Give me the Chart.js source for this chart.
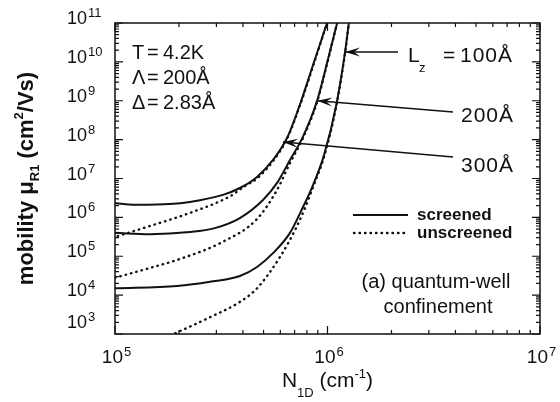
<!DOCTYPE html>
<html>
<head>
<meta charset="utf-8">
<script src="https://cdn.jsdelivr.net/npm/chart.js@4/dist/chart.umd.min.js"></script>
<style>
  html, body { margin: 0; padding: 0; background: #fff; }
  #wrap { width: 560px; height: 402px; }
</style>
</head>
<body>
<div id="wrap"><canvas id="mobilityChart" width="560" height="402"></canvas></div>
<script>
// axis ranges (log10 decades)
const xExps = [5, 6, 7];
const yExps = [3, 4, 5, 6, 7, 8, 9, 10, 11];

// N_1D (cm^-1) vs mobility (cm^2/Vs)
// Lz = 300 A
const n300s = [1.0e5, 1.31e5, 1.81e5, 2.25e5, 3.22e5, 3.87e5, 4.66e5, 5.54e5, 6.45e5, 7.42e5, 8.55e5, 9.95e5];
const mu300s = [2.3e6, 2.1e6, 2.2e6, 2.5e6, 3.8e6, 5.7e6, 1.1e7, 3.0e7, 1.1e8, 8.0e8, 8.3e9, 1.0e11];
const n300u = [1.03e5, 1.46e5, 2.25e5, 3.48e5, 4.09e5, 4.66e5, 5.54e5, 6.45e5, 7.42e5, 8.55e5, 9.95e5];
const mu300u = [3.3e5, 6.0e5, 1.3e6, 3.5e6, 6.4e6, 1.0e7, 2.8e7, 1.05e8, 7.6e8, 7.8e9, 1.0e11];
// Lz = 200 A
const n200s = [1.0e5, 1.46e5, 2.25e5, 2.95e5, 3.87e5, 4.97e5, 5.79e5, 6.66e5, 7.67e5, 8.93e5, 9.95e5, 1.11e6];
const mu200s = [4.0e5, 3.7e5, 4.2e5, 5.3e5, 9.6e5, 2.8e6, 7.7e6, 3.0e7, 1.2e8, 9.9e8, 9.4e9, 1.0e11];
const n200u = [1.0e5, 1.46e5, 2.02e5, 3.19e5, 4.66e5, 5.79e5, 6.66e5, 7.67e5, 8.93e5, 9.95e5, 1.11e6];
const mu200u = [2.8e4, 5.0e4, 8.5e4, 2.3e5, 9.1e5, 5.1e6, 2.5e7, 1.1e8, 9.3e8, 8.8e9, 1.0e11];
// Lz = 100 A
const n100s = [1.0e5, 1.96e5, 2.80e5, 3.87e5, 4.66e5, 5.54e5, 6.66e5, 7.67e5, 8.55e5, 9.63e5, 1.10e6, 1.21e6, 1.26e6];
const mu100s = [1.5e4, 1.72e4, 2.2e4, 3.1e4, 5.3e4, 1.2e5, 4.0e5, 1.85e6, 6.8e6, 4.0e7, 7.8e8, 1.8e10, 1.0e11];
const n100u = [1.63e5, 2.80e5, 3.87e5, 4.66e5, 5.98e5, 7.03e5, 7.84e5, 8.55e5, 9.63e5, 1.10e6, 1.21e6, 1.26e6];
const mu100u = [7.0e2, 2.7e3, 6.7e3, 1.5e4, 9.6e4, 4.7e5, 1.74e6, 6.0e6, 3.6e7, 7.3e8, 1.7e10, 1.0e11];

// where the Lz arrows point (on the screened curves)
const arrowTips = [
  { label: '100Å', n: 1.21e6, mu: 1.8e10 },
  { label: '200Å', n: 8.95e5, mu: 1.0e9 },
  { label: '300Å', n: 6.17e5, mu: 8.7e7 }
];

const FONT = '"Liberation Sans", Arial, Helvetica, sans-serif';
const INK = '#111';

function toPoints(xs, ys) {
  return xs.map((x, i) => ({ x: x, y: ys[i] }));
}

function curve(xs, ys, dotted) {
  return {
    data: toPoints(xs, ys),
    borderColor: INK,
    borderWidth: dotted ? 2.4 : 2,
    borderDash: dotted ? [0.5, 5] : [],
    borderCapStyle: dotted ? 'round' : 'butt',
    pointRadius: 0,
    cubicInterpolationMode: 'monotone',
    clip: 0
  };
}

// draws "10" with a raised exponent
function drawPow(ctx, exp, x, y, align, size) {
  const big = size + 'px ' + FONT, small = '13px ' + FONT;
  ctx.font = big;
  const wb = ctx.measureText('10').width;
  ctx.font = small;
  const we = ctx.measureText(String(exp)).width;
  let x0 = x;
  if (align === 'right10') x0 = x - wb;
  if (align === 'center') x0 = x - (wb + we) / 2;
  ctx.textAlign = 'left';
  ctx.font = big;
  ctx.fillText('10', x0, y);
  ctx.font = small;
  ctx.fillText(String(exp), x0 + wb + 1, y - 7);
}

// draws a run of [text, size, dy, bold] pieces starting at x
function drawRun(ctx, parts, x, y, center) {
  let w = 0;
  parts.forEach(p => { ctx.font = (p[3] ? 'bold ' : '') + p[1] + 'px ' + FONT; w += ctx.measureText(p[0]).width; });
  let cx = center ? x - w / 2 : x;
  ctx.textAlign = 'left';
  parts.forEach(p => {
    ctx.font = (p[3] ? 'bold ' : '') + p[1] + 'px ' + FONT;
    ctx.fillText(p[0], cx, y + p[2]);
    cx += ctx.measureText(p[0]).width;
  });
}

function arrow(ctx, x1, y1, x2, y2) {
  ctx.beginPath();
  ctx.moveTo(x1, y1);
  ctx.lineTo(x2, y2);
  ctx.lineWidth = 1.6;
  ctx.stroke();
  const ang = Math.atan2(y2 - y1, x2 - x1);
  const L = 15, W = 4.5;
  ctx.beginPath();
  ctx.moveTo(x2, y2);
  ctx.lineTo(x2 - L * Math.cos(ang) + W * Math.sin(ang), y2 - L * Math.sin(ang) - W * Math.cos(ang));
  ctx.lineTo(x2 - 0.6 * L * Math.cos(ang), y2 - 0.6 * L * Math.sin(ang));
  ctx.lineTo(x2 - L * Math.cos(ang) - W * Math.sin(ang), y2 - L * Math.sin(ang) + W * Math.cos(ang));
  ctx.closePath();
  ctx.fill();
}

const decor = {
  id: 'decor',
  afterDraw(chart) {
    const { ctx, chartArea: a, scales: { x, y } } = chart;
    ctx.save();
    ctx.strokeStyle = INK;
    ctx.fillStyle = INK;
    ctx.textBaseline = 'alphabetic';

    // frame
    ctx.lineWidth = 1.5;
    ctx.strokeRect(a.left, a.top, a.right - a.left, a.bottom - a.top);

    // inward ticks on all sides
    ctx.lineWidth = 1.2;
    ctx.beginPath();
    for (let e = xExps[0]; e <= xExps[xExps.length - 1]; e++) {
      for (let m = 1; m <= 9; m++) {
        const v = m * Math.pow(10, e);
        if (v > x.max) break;
        const px = x.getPixelForValue(v);
        const len = m === 1 ? 8 : 4;
        ctx.moveTo(px, a.bottom); ctx.lineTo(px, a.bottom - len);
        ctx.moveTo(px, a.top); ctx.lineTo(px, a.top + len);
      }
    }
    for (let e = yExps[0]; e <= yExps[yExps.length - 1]; e++) {
      for (let m = 1; m <= 9; m++) {
        const v = m * Math.pow(10, e);
        if (v > y.max) break;
        const py = y.getPixelForValue(v);
        const len = m === 1 ? 8 : 4;
        ctx.moveTo(a.left, py); ctx.lineTo(a.left + len, py);
        ctx.moveTo(a.right, py); ctx.lineTo(a.right - len, py);
      }
    }
    ctx.stroke();

    // tick labels
    yExps.forEach(e => {
      const py = y.getPixelForValue(Math.pow(10, e));
      drawPow(ctx, e, 87, e === yExps[0] ? py - 6 : py + 1, 'right10', 18);
    });
    xExps.forEach(e => {
      const px = x.getPixelForValue(Math.pow(10, e));
      drawPow(ctx, e, px + 1, 363, 'center', 19);
    });

    // axis titles
    drawRun(ctx, [['N', 21, 0, false], ['1D', 13, 10, false], [' (cm', 21, 0, false], ['-1', 13, -9, false], [')', 21, 0, false]],
      (a.left + a.right) / 2, 387, true);
    ctx.save();
    ctx.translate(33, (a.top + a.bottom) / 2);
    ctx.rotate(-Math.PI / 2);
    drawRun(ctx, [['mobility \u03bc', 22, 0, true], ['R1', 13, 6, true], [' (cm', 22, 0, true], ['2', 13, -10, true], ['/Vs)', 22, 0, true]],
      0, 0, true);
    ctx.restore();

    // parameters block
    const rows = [['T', '4.2K', 59], ['\u039b', '200Å', 84], ['\u0394', '2.83Å', 109]];
    ctx.font = '20px ' + FONT;
    ctx.textAlign = 'left';
    rows.forEach(r => {
      ctx.fillText(r[0], 132, r[2]);
      ctx.fillText('=', 147, r[2]);
      ctx.fillText(r[1], 163, r[2]);
    });

    // Lz arrows and labels
    const tails = [[398, 52], [453, 112], [453, 157]];
    arrowTips.forEach((t, i) => {
      arrow(ctx, tails[i][0], tails[i][1], x.getPixelForValue(t.n), y.getPixelForValue(t.mu));
    });
    ctx.font = '21px ' + FONT;
    ctx.textAlign = 'left';
    ctx.letterSpacing = '1px';
    ctx.fillText(arrowTips[0].label, 460, 62);
    ctx.fillText(arrowTips[1].label, 461, 122);
    ctx.fillText(arrowTips[2].label, 461, 172);
    ctx.letterSpacing = '0px';
    ctx.fillText('=', 443, 62);
    ctx.fillText('L', 408, 62);
    ctx.font = '13px ' + FONT;
    ctx.fillText('z', 419, 72);

    // legend
    ctx.lineWidth = 2;
    ctx.beginPath(); ctx.moveTo(353, 215); ctx.lineTo(408, 215); ctx.stroke();
    ctx.save();
    ctx.lineWidth = 2.4; ctx.lineCap = 'round'; ctx.setLineDash([0.5, 5]);
    ctx.beginPath(); ctx.moveTo(354, 233); ctx.lineTo(408, 233); ctx.stroke();
    ctx.restore();
    ctx.font = 'bold 17px ' + FONT;
    ctx.fillText('screened', 417, 220);
    ctx.fillText('unscreened', 417, 238);

    // panel caption
    ctx.font = '20px ' + FONT;
    ctx.textAlign = 'center';
    ctx.fillText('(a) quantum-well', 436, 288);
    ctx.fillText('confinement', 438, 313);

    ctx.restore();
  }
};

new Chart(document.getElementById('mobilityChart'), {
  type: 'line',
  data: {
    datasets: [
      curve(n300s, mu300s, false),
      curve(n300u, mu300u, true),
      curve(n200s, mu200s, false),
      curve(n200u, mu200u, true),
      curve(n100s, mu100s, false),
      curve(n100u, mu100u, true)
    ]
  },
  options: {
    responsive: false,
    animation: false,
    layout: { padding: { left: 115, right: 20, top: 23, bottom: 68 } },
    plugins: { legend: { display: false }, tooltip: { enabled: false } },
    scales: {
      x: { type: 'logarithmic', min: Math.pow(10, xExps[0]), max: Math.pow(10, xExps[xExps.length - 1]), display: false },
      y: { type: 'logarithmic', min: Math.pow(10, yExps[0]), max: Math.pow(10, yExps[yExps.length - 1]), display: false }
    }
  },
  plugins: [decor]
});
</script>
</body>
</html>
